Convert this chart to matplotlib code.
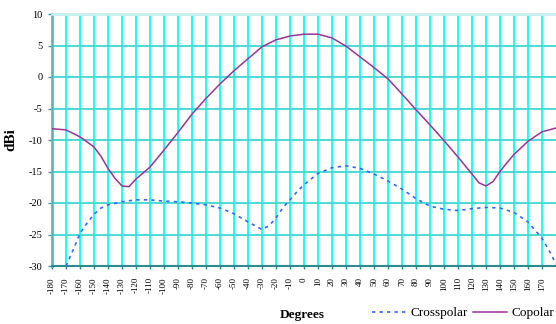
import matplotlib
matplotlib.use("Agg")
import matplotlib.pyplot as plt

# ---- data
co_deg = [-180, -170, -160, -150, -145, -140, -135, -130, -125, -120, -110, -100,
          -90, -80, -70, -60, -50, -40, -30, -20, -10, 0, 10, 20, 30, 40, 50,
          60, 70, 80, 90, 100, 110, 120, 125, 130, 135, 140, 145, 150, 160, 170, 180]
copolar = [-8.2, -8.4, -9.5, -11.1, -12.6, -14.5, -16.1, -17.3, -17.4, -16.2, -14.3, -11.6,
           -8.8, -5.9, -3.4, -1.1, 1.0, 2.9, 4.8, 5.9, 6.5, 6.8, 6.8, 6.2, 4.9, 3.2, 1.5,
           -0.3, -2.7, -5.2, -7.6, -10.1, -12.7, -15.4, -16.8, -17.3, -16.6, -15.0, -13.6, -12.3,
           -10.2, -8.7, -8.1]

cx_deg = [-170, -165, -160, -155, -150, -145, -140, -130, -120, -110, -100, -90, -80,
          -70, -60, -50, -40, -30, -25, -20, -15, -10, -5, 0, 10, 20, 30, 40, 50, 60,
          70, 80, 90, 100, 110, 120, 130, 140, 150, 160, 170, 175, 180]
crosspolar = [-30.0, -27.5, -24.8, -23.2, -21.8, -20.8, -20.3, -19.8, -19.5, -19.5, -19.7, -19.8, -20.0,
              -20.3, -20.8, -21.7, -23.0, -24.2, -23.6, -22.4, -20.7, -19.5, -18.2, -17.1, -15.3, -14.4,
              -14.1, -14.5, -15.4, -16.5, -17.8, -19.3, -20.5, -21.0, -21.2, -20.9, -20.7, -20.8,
              -21.5, -23.0, -25.6, -27.5, -29.7]

x_ticks = list(range(-180, 180, 10))
y_ticks = list(range(-30, 11, 5))

plt.rcParams['font.family'] = ['Liberation Serif', 'DejaVu Serif']

fig = plt.figure(figsize=(5.56, 3.24), dpi=100)
ax = fig.add_axes([52 / 556, 1 - 266 / 324, 504 / 556, 252 / 324])

ax.set_xlim(-180, 180)
ax.set_ylim(-30, 10)

# grid
for xv in x_ticks:
    ax.axvline(xv, color='#00FFFF', lw=1.3, zorder=1)
for yv in y_ticks[:-1]:
    ax.axhline(yv, color='#40D8D0', lw=1.3, zorder=1)

ax.plot(cx_deg, crosspolar, color='#3366FF', lw=1.2, ls=(0, (2, 2.5)),
        label='Crosspolar', zorder=3)
ax.plot(co_deg, copolar, color='#993399', lw=1.1, label='Copolar', zorder=3)

ax.set_xticks(x_ticks)
ax.set_xticklabels([str(v) for v in x_ticks], rotation=90, fontsize=6.5)
ax.set_yticks(y_ticks)
ax.set_yticklabels([str(v) for v in y_ticks], fontsize=7.5)
ax.tick_params(axis='y', length=3, width=1, color='#2E9E9E', pad=4)
ax.tick_params(axis='x', length=2, width=1, color='#2E8B8B', pad=6)

ax.spines['right'].set_visible(False)
ax.spines['top'].set_color('#C8F0F0')
ax.spines['top'].set_linewidth(2)
ax.spines['left'].set_color('#5FB8B8')
ax.spines['left'].set_linewidth(2)
ax.spines['bottom'].set_color('#2E8B8B')
ax.spines['bottom'].set_linewidth(1.5)

ax.set_ylabel('dBi', fontsize=11, fontweight='bold')
ax.yaxis.set_label_coords(-0.068, 0.5)

fig.text(302 / 556, 1 - 315 / 324, 'Degrees', fontsize=9.5, fontweight='bold',
         ha='center', va='center')

ax.legend(loc='center left', bbox_to_anchor=(372 / 556, 1 - 313 / 324),
          bbox_transform=fig.transFigure, ncol=2, frameon=False, fontsize=9.5,
          handlelength=2.6, handletextpad=0.3, columnspacing=0.4, borderpad=0,
          borderaxespad=0)

fig.savefig('out.png', dpi=100)
